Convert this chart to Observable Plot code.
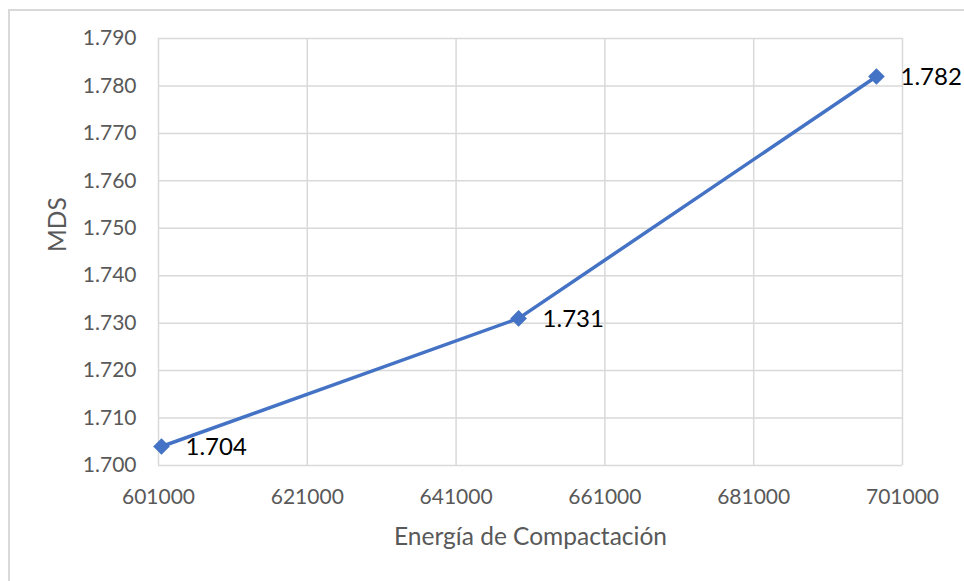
<!DOCTYPE html>
<html>
<head>
<meta charset="utf-8">
<script src="https://cdn.jsdelivr.net/npm/d3@7"></script>
<script src="https://cdn.jsdelivr.net/npm/@observablehq/plot@0.6"></script>
<style>
  html, body { margin: 0; padding: 0; background: #fff; overflow: hidden; }
  #wrap { position: relative; width: 964px; height: 581px; }
  #border { position: absolute; left: 8px; top: 9px; width: 2000px; height: 2000px;
            border-left: 2px solid #d9d9d9; border-top: 2px solid #d9d9d9; box-sizing: border-box; }
  #chart { position: absolute; left: 0; top: 0; }
</style>
</head>
<body>
<div id="wrap"><div id="border"></div><div id="chart"></div></div>
<script>
const energia = [601400, 649400, 697500];
const mds = [1.704, 1.731, 1.782];
const xTicks = [601000, 621000, 641000, 661000, 681000, 701000];
const yTicks = [1.700, 1.710, 1.720, 1.730, 1.740, 1.750, 1.760, 1.770, 1.780, 1.790];
const xTitle = "Energía de Compactación";
const yTitle = "MDS";

const data = energia.map((e, i) => ({x: e, y: mds[i]}));
const font = "Lato, 'Open Sans', sans-serif";
const blue = "#4472C4";
const grid = "#d9d9d9";

const chart = Plot.plot({
  width: 964,
  height: 581,
  marginLeft: 158,
  marginRight: 62,
  marginTop: 38,
  marginBottom: 116,
  style: {fontFamily: font, fontSize: "21px", color: "#595959", background: "transparent"},
  x: {domain: [601000, 701000], ticks: xTicks, tickFormat: d => String(d)},
  y: {domain: [1.700, 1.790], ticks: yTicks, tickFormat: d3.format(".3f")},
  marks: [
    Plot.gridX(xTicks, {stroke: grid, strokeOpacity: 1, strokeWidth: 1.5}),
    Plot.gridY(yTicks, {stroke: grid, strokeOpacity: 1, strokeWidth: 1.5}),
    Plot.axisX({ticks: xTicks, tickSize: 0, tickPadding: 24, tickFormat: d => String(d),
      label: null, fontSize: 21, fill: "#595959"}),
    Plot.axisY({ticks: yTicks, tickSize: 0, tickPadding: 22, tickFormat: d3.format(".3f"),
      label: null, fontSize: 21, fill: "#595959"}),
    Plot.text([xTitle], {frameAnchor: "bottom", dy: 72, lineAnchor: "middle",
      text: d => d, fontSize: 24.5, fill: "#595959", fontFamily: font}),
    Plot.text([yTitle], {frameAnchor: "left", dx: -100, rotate: -90, lineAnchor: "middle",
      text: d => d, fontSize: 24.5, fill: "#595959", fontFamily: font}),
    Plot.line(data, {x: "x", y: "y", stroke: blue, strokeWidth: 3.5}),
    Plot.dot(data, {x: "x", y: "y", symbol: "diamond2", r: 7.5, fill: blue, stroke: "none"}),
    Plot.text(data, {x: "x", y: "y", text: d => d3.format(".3f")(d.y), dx: 24, dy: 1,
      textAnchor: "start", fill: "#000", fontSize: 24, fontFamily: font})
  ]
});
document.getElementById("chart").appendChild(chart);
</script>
</body>
</html>
